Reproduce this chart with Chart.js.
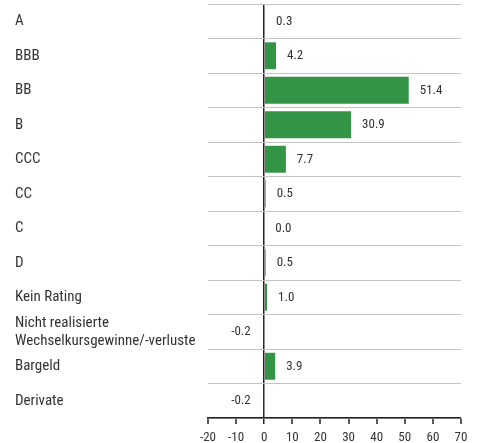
<!DOCTYPE html>
<html>
<head>
<meta charset="utf-8">
<script src="https://cdn.jsdelivr.net/npm/chart.js@4/dist/chart.umd.min.js"></script>
<style>
  html, body { margin: 0; padding: 0; background: #fff; }
  #wrap { width: 478px; height: 443px; }
</style>
</head>
<body>
<div id="wrap"><canvas id="c" width="478" height="443"></canvas></div>
<script>
const categories = [
  "A", "BBB", "BB", "B", "CCC", "CC", "C", "D", "Kein Rating",
  ["Nicht realisierte", "Wechselkursgewinne/-verluste"],
  "Bargeld", "Derivate"
];
const values = [0.3, 4.2, 51.4, 30.9, 7.7, 0.5, 0.0, 0.5, 1.0, -0.2, 3.9, -0.2];
const xMin = -20, xMax = 70, xStep = 10;

const FONT = "Roboto, 'Liberation Sans', sans-serif";
const STRETCH = 'condensed';
const TEXT = '#333333';

const valueLabels = {
  id: 'valueLabels',
  afterDatasetsDraw(chart) {
    const ctx = chart.ctx;
    const meta = chart.getDatasetMeta(0);
    const xs = chart.scales.x;
    const zero = xs.getPixelForValue(0);
    ctx.save();
    ctx.font = STRETCH + " 13px " + FONT;
    ctx.fillStyle = TEXT;
    ctx.textBaseline = 'middle';
    meta.data.forEach((el, i) => {
      const v = values[i];
      const end = xs.getPixelForValue(v);
      const txt = v.toFixed(1);
      if (v < 0) {
        ctx.textAlign = 'right';
        ctx.fillText(txt, Math.min(end, zero) - 13, el.y);
      } else {
        ctx.textAlign = 'left';
        ctx.fillText(txt, Math.max(end, zero) + 11, el.y);
      }
    });
    ctx.restore();
  }
};

new Chart(document.getElementById('c'), {
  type: 'bar',
  data: {
    labels: categories,
    datasets: [{
      data: values,
      backgroundColor: '#339446',
      borderWidth: 0,
      categoryPercentage: 1.0,
      barPercentage: 0.78
    }]
  },
  options: {
    indexAxis: 'y',
    responsive: false,
    animation: false,
    events: [],
    layout: { padding: { left: 15, top: 4, right: 17, bottom: 0 } },
    plugins: { legend: { display: false }, tooltip: { enabled: false } },
    scales: {
      x: {
        min: xMin, max: xMax,
        z: 1,
        afterFit(scale) { scale.height = 25; },
        ticks: {
          stepSize: xStep,
          autoSkip: false,
          maxRotation: 0,
          color: TEXT,
          padding: 6,
          font: { family: FONT, weight: STRETCH, size: 13, lineHeight: 1.2 }
        },
        border: { display: true, color: '#222', width: 1.5 },
        grid: {
          drawOnChartArea: true,
          tickLength: 6,
          color: (c) => (c.tick && c.tick.value === 0) ? '#222' : 'rgba(0,0,0,0)',
          lineWidth: (c) => (c.tick && c.tick.value === 0) ? 1.5 : 0,
          tickColor: '#222',
          tickWidth: 1.5
        }
      },
      y: {
        afterFit(scale) {
          scale.width = 193;
          scale.paddingTop = 0;
          scale.paddingBottom = 0;
        },
        ticks: {
          autoSkip: false,
          crossAlign: 'far',
          color: TEXT,
          font: { family: FONT, weight: STRETCH, size: 15, lineHeight: 1.2 }
        },
        border: { display: false },
        grid: {
          offset: true,
          drawTicks: false,
          color: '#c4c4c4',
          lineWidth: 1
        }
      }
    }
  },
  plugins: [valueLabels]
});
</script>
</body>
</html>
